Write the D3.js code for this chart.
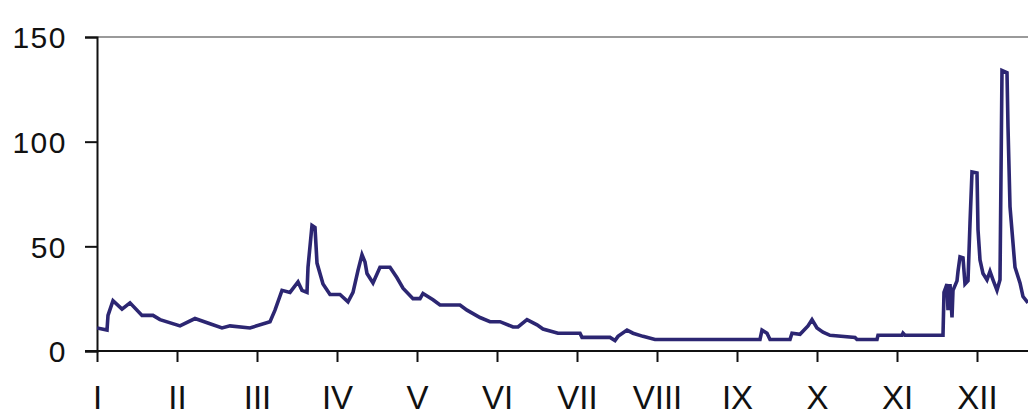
<!DOCTYPE html>
<html>
<head>
<meta charset="utf-8">
<script src="https://cdn.jsdelivr.net/npm/d3@7"></script>
<style>
  html, body { margin: 0; padding: 0; background: #fff; }
  svg { display: block; }
  text { font-family: "Liberation Sans", Arial, sans-serif; fill: #111; }
</style>
</head>
<body>
<svg id="chart" width="1028" height="417"></svg>
<script>
// ---- data (month position: 0 = start of I) ----
const monthLabels = ["I","II","III","IV","V","VI","VII","VIII","IX","X","XI","XII"];
const yTicks = [0, 50, 100, 150];
const monthPos = [
  0.000,0.125,0.1375,0.2,0.3125,0.4125,0.5625,0.7,0.7875,1.0375,
  1.225,1.4125,1.5625,1.6625,1.9125,2.1625,2.225,2.3125,2.4125,2.5125,
  2.5625,2.625,2.6375,2.6875,2.725,2.75,2.825,2.9125,3.0375,3.1375,
  3.2,3.2625,3.3125,3.35,3.375,3.45,3.5375,3.6625,3.75,3.825,
  3.95,4.0375,4.075,4.2,4.2875,4.5375,4.625,4.7875,4.9125,5.0375,
  5.2,5.2625,5.375,5.5,5.575,5.7625,6.0375,6.0625,6.4125,6.475,
  6.5125,6.625,6.7,6.825,6.975,8.2875,8.3125,8.375,8.4125,8.6625,
  8.6875,8.7875,8.8875,8.9375,9.0,9.075,9.1625,9.475,9.5,9.75,
  9.7625,10.0625,10.075,10.1,10.575,10.5875,10.625,10.6375,10.6625,10.6875,
  10.7,10.75,10.7625,10.7875,10.825,10.85,10.8875,10.9125,10.9375,11.0,
  11.0125,11.0375,11.075,11.125,11.1625,11.2,11.25,11.2875,11.3125,11.375,
  11.3875,11.4125,11.45,11.475,11.5375,11.575,11.6375
];
const values = [
  11,10,17,24,20,23,17,17,15,12,
  15.5,13,11,12,11,14,19.5,29,28,33,
  29,28,40,60,59,42,32,27,27,23.5,
  28,38.5,46,42.5,37,32.5,40,40,35,30,
  25,25,27.5,24.5,22,22,19.5,16,14,14,
  11.5,11.5,15,12.5,10.5,8.5,8.5,6.5,6.5,5,
  7,10,8.5,7,5.5,5.5,10,8.5,5.5,5.5,
  8.5,8,12,15,11,9,7.5,6.5,5.5,5.5,
  7.5,7.5,8.5,7.5,7.5,28,32,19.5,32,16,
  29,33.5,38,45,44.5,32,33.5,61,85.5,85,
  58,43.5,37,34,38,34,29,34,134,133,
  107,69,51.5,40,32.5,26,23
];

const svg = d3.select("#chart");
const padL = 97, padR = 1028, padT = 37, padB = 351;

const x = d3.scaleLinear().domain([0, 11.6375]).range([padL, padR]);
const y = d3.scaleLinear().domain([0, 150]).range([padB, padT]);

// top gridline at 150
svg.append("line")
  .attr("x1", padL).attr("x2", padR)
  .attr("y1", y(150)).attr("y2", y(150))
  .attr("stroke", "#9a9a9a").attr("stroke-width", 2);

// y axis
const yAxis = d3.axisLeft(y).tickValues(yTicks).tickSize(12).tickPadding(18);
const gy = svg.append("g").attr("transform", `translate(${padL},0)`).call(yAxis);
gy.select(".domain").attr("stroke", "#111").attr("stroke-width", 2);
gy.selectAll(".tick line").attr("stroke", "#111").attr("stroke-width", 2);
gy.selectAll(".tick text")
  .attr("font-size", 30).attr("font-family", "Liberation Sans, Arial, sans-serif")
  .attr("letter-spacing", 1.5)
  .attr("fill", "#111").attr("dy", "0.36em");

// x axis
const xAxis = d3.axisBottom(x).tickValues(d3.range(12)).tickSize(11)
  .tickFormat(i => monthLabels[i]).tickPadding(24);
const gx = svg.append("g").attr("transform", `translate(0,${padB})`).call(xAxis);
gx.select(".domain").remove();
gx.append("line").attr("x1", padL - 12).attr("x2", padR).attr("y1", 0).attr("y2", 0)
  .attr("stroke", "#111").attr("stroke-width", 2);
gx.selectAll(".tick line").attr("stroke", "#111").attr("stroke-width", 2);
gx.selectAll(".tick text")
  .attr("font-size", 33).attr("font-family", "Liberation Sans, Arial, sans-serif")
  .attr("fill", "#111").attr("dy", "0.71em");

// line
svg.append("defs").append("clipPath").attr("id", "clip")
  .append("rect").attr("x", padL).attr("y", 0).attr("width", padR - padL).attr("height", padB);

const data = monthPos.map((m, i) => ({ m, v: values[i] }));
const line = d3.line().x(d => x(d.m)).y(d => y(d.v));
svg.append("path")
  .datum(data)
  .attr("clip-path", "url(#clip)")
  .attr("fill", "none")
  .attr("stroke", "#2c2672")
  .attr("stroke-width", 3.6)
  .attr("stroke-linejoin", "miter")
  .attr("d", line);
</script>
</body>
</html>
